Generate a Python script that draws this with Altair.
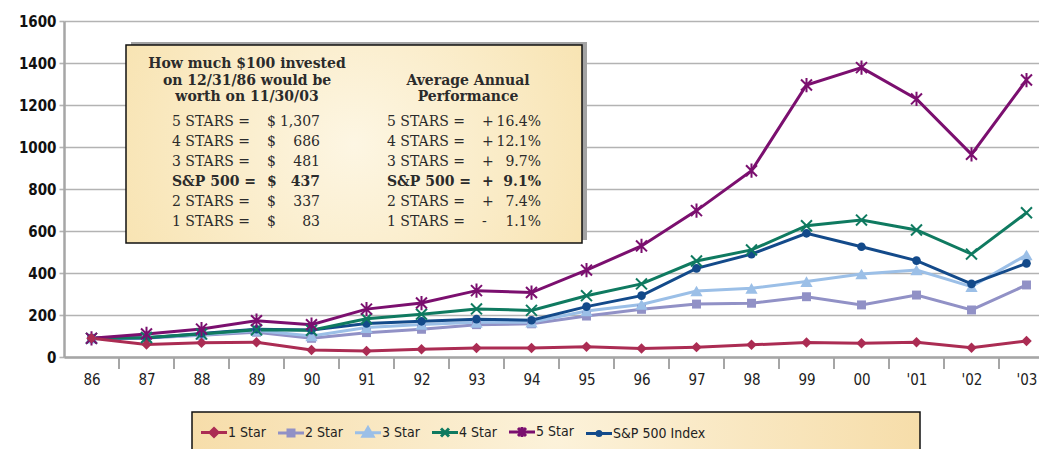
import json
import altair as alt
import pandas as pd

# ---------------- data ----------------
years = ["86", "87", "88", "89", "90", "91", "92", "93", "94", "95", "96",
         "97", "98", "99", "00", "'01", "'02", "'03"]
series_names = ["1 Star", "2 Star", "3 Star", "4 Star", "5 Star", "S&P 500 Index"]

one_star = [89, 60, 68, 70, 33, 29, 37, 43, 43, 49, 41, 47, 58, 69, 66, 70, 44, 76]
two_star = [89, 90, 103, 118, 89, 116, 132, 154, 158, 195, 227, 252, 256, 287, 248, 295, 224, 343]
three_star = [89, 92, 106, 126, 100, 140, 155, 165, 166, 219, 250, 314, 327, 359, 395, 414, 335, 486]
four_star = [89, 93, 110, 130, 127, 182, 204, 229, 222, 292, 348, 457, 510, 625, 652, 605, 490, 687]
five_star = [89, 110, 133, 173, 154, 228, 257, 316, 307, 414, 529, 697, 887, 1295, 1378, 1229, 965, 1319]
sp500 = [89, 90, 112, 132, 128, 160, 170, 180, 175, 240, 292, 422, 490, 589, 525, 459, 348, 446]

colors = ["#ab2c53", "#9191c6", "#9bbfe7", "#0f7a60", "#7b0f6f", "#134a8a"]

y_ticks = [0, 200, 400, 600, 800, 1000, 1200, 1400, 1600]

box_left_head = ["How much $100 invested", "on 12/31/86 would be", "worth on 11/30/03"]
box_right_head = ["Average Annual", "Performance"]
row_labels = ["5 STARS =", "4 STARS =", "3 STARS =", "S&P 500 =", "2 STARS =", "1 STARS ="]
worth = ["1,307", "686", "481", "437", "337", "83"]
perf_sign = ["+", "+", "+", "+", "+", "-"]
perf_val = ["16.4%", "12.1%", "9.7%", "9.1%", "7.4%", "1.1%"]
bold_row = 3

# ---------------- tables ----------------
all_vals = [one_star, two_star, three_star, four_star, five_star, sp500]
rows = []
for name, vals in zip(series_names, all_vals):
    for i, v in enumerate(vals):
        rows.append({"idx": i, "year": years[i], "series": name, "value": v})
df = pd.DataFrame(rows)

tick_df = pd.DataFrame({"b": [i + 0.5 for i in range(len(years) - 1)]})

# ---------------- layout ----------------
W, H = 975, 336
STEP = 55
PAD = {"left": 64, "top": 21, "right": 0, "bottom": 92}
GRID = "#b3b3b3"
SANS = "'Liberation Sans Narrow', 'DejaVu Sans Condensed', 'Roboto', sans-serif"
SERIF = "'DejaVu Serif', 'Liberation Serif', serif"
TXT = "#2b2b2b"

x_scale = alt.Scale(domain=[-0.5, -0.5 + W / STEP], nice=False, zero=False)
y_scale = alt.Scale(domain=[0, 1600], nice=False, zero=True)
color_scale = alt.Scale(domain=series_names, range=colors)

label_expr = json.dumps(years) + "[datum.value]"

x_axis = alt.Axis(values=list(range(len(years))), labelExpr=label_expr, ticks=False,
                  grid=False, domainColor="#a6a6a6", domainWidth=2.5, labelPadding=15,
                  labelFont=SANS, labelFontSize=15, labelColor="#222222", title=None)
y_axis = alt.Axis(values=y_ticks, format="d", grid=True, gridColor=GRID, gridWidth=1.6,
                  domainColor="#a6a6a6", domainWidth=2.5, tickColor=GRID, tickWidth=1.6,
                  tickSize=5, labelPadding=3, labelFont=SANS, labelFontSize=15,
                  labelFontWeight="bold", labelColor="#111111", title=None)

base = alt.Chart(df)

# legend layer first (draws nothing; provides the legend)
L = "M-13,0H13"
legend_paths = [
    L + "M0,-4L4,0L0,4L-4,0ZM0,-1.5L1.5,0L0,1.5L-1.5,0Z",
    L + "M-3,-3H3V3H-3ZM-0.8,-0.8H0.8V0.8H-0.8Z",
    L + "M0,-5L5,3.5L-5,3.5ZM0,-1.5L1.5,1L-1.5,1Z",
    L + "M-4,-4L4,4M-4,4L4,-4",
    L + "M-4,-4L4,4M-4,4L4,-4M0,-5V5",
    L + "M-2,0A2,2,0,1,1,2,0A2,2,0,1,1,-2,0Z",
]
leg = alt.Legend(
    orient="none", legendX=122, legendY=391, direction="horizontal", columns=6,
    title=None, symbolSize=4, symbolStrokeWidth=3, symbolOffset=8,
    labelOffset=7, labelFont=SANS, labelFontSize=14, labelColor="#222222",
    columnPadding=6, padding=13,
)
legend_layer = base.transform_filter("datum.value < 0").mark_point(
    filled=False, opacity=1, strokeWidth=3
).encode(
    x=alt.X("idx:Q", scale=x_scale, axis=x_axis, title=None),
    y=alt.Y("value:Q", scale=y_scale, axis=y_axis, title=None),
    color=alt.Color("series:N", scale=color_scale, legend=leg),
    shape=alt.Shape("series:N", scale=alt.Scale(domain=series_names, range=legend_paths), legend=leg),
)

draw_order = [1, 2, 5, 3, 4, 0]
line_layers = []
for k in draw_order:
    line_layers.append(
        base.transform_filter(alt.datum.series == series_names[k])
        .mark_line(color=colors[k], strokeWidth=3)
        .encode(x=alt.X("idx:Q", title=None), y=alt.Y("value:Q", title=None))
    )

x_path = "M-1,-1L1,1M-1,1L1,-1"
ast_path = "M-1,-1L1,1M-1,1L1,-1M0,-1.3L0,1.3"
point_styles = [
    dict(shape="diamond", filled=True, size=110),
    dict(shape="square", filled=True, size=80),
    dict(shape="triangle-up", filled=True, size=150),
    dict(shape=x_path, filled=False, size=120, strokeWidth=2),
    dict(shape=ast_path, filled=False, size=120, strokeWidth=2),
    dict(shape="circle", filled=True, size=75),
]
point_layers = []
for k in draw_order:
    point_layers.append(
        base.transform_filter(alt.datum.series == series_names[k])
        .mark_point(color=colors[k], opacity=1, **point_styles[k])
        .encode(x=alt.X("idx:Q", title=None), y=alt.Y("value:Q", title=None))
    )

ticks = alt.Chart(tick_df).mark_rule(color="#a6a6a6", strokeWidth=2).encode(
    x=alt.X("b:Q", title=None), y=alt.value(H + 1), y2=alt.value(H + 12)
)

# ---------------- annotation box ----------------
one = pd.DataFrame({"a": [0]})
box_grad = alt.Gradient(
    gradient="radial",
    stops=[alt.GradientStop(color="#fdf6e3", offset=0),
           alt.GradientStop(color="#f6dda1", offset=1)],
    x1=0.5, y1=0.5, r1=0, x2=0.5, y2=0.5, r2=0.75,
)
shadow = alt.Chart(one).mark_rect(color="#a3a3a3").encode(
    x=alt.value(67), x2=alt.value(523), y=alt.value(21), y2=alt.value(219))
box = alt.Chart(one).mark_rect(fill=box_grad, stroke="#111111", strokeWidth=1.5).encode(
    x=alt.value(62), x2=alt.value(518), y=alt.value(24), y2=alt.value(222))


def txt(t, x, y, align="left", bold=False, size=14):
    return alt.Chart(pd.DataFrame({"t": [t]})).mark_text(
        align=align, baseline="middle", font=SERIF, fontSize=size,
        fontWeight="bold" if bold else "normal", color=TXT,
    ).encode(x=alt.value(x), y=alt.value(y), text="t:N")


texts = []
for i, t in enumerate(box_left_head):
    texts.append(txt(t, 183, 43 + i * 16.7, align="center", bold=True))
for i, t in enumerate(box_right_head):
    texts.append(txt(t, 404, 59.7 + i * 16.7, align="center", bold=True))
for i in range(len(row_labels)):
    yy = 101.3 + i * 19.9
    b = i == bold_row
    texts.append(txt(row_labels[i], 108, yy, bold=b))
    texts.append(txt("$", 203, yy, bold=b))
    texts.append(txt(worth[i], 256, yy, align="right", bold=b))
    texts.append(txt(row_labels[i], 323, yy, bold=b))
    texts.append(txt(perf_sign[i], 418, yy, bold=b))
    texts.append(txt(perf_val[i], 477, yy, align="right", bold=b))

# ---------------- legend background ----------------
leg_grad = alt.Gradient(
    gradient="radial",
    stops=[alt.GradientStop(color="#fcf2da", offset=0),
           alt.GradientStop(color="#f5d9a0", offset=1)],
    x1=0.5, y1=0.5, r1=0, x2=0.5, y2=0.5, r2=0.6,
)
leg_bg = alt.Chart(one).mark_rect(fill=leg_grad, stroke="#111111", strokeWidth=1.5).encode(
    x=alt.value(128), x2=alt.value(856), y=alt.value(391), y2=alt.value(445))

chart = alt.layer(
    legend_layer, ticks, *line_layers, *point_layers, shadow, box, *texts, leg_bg
).properties(
    width=W, height=H, padding=PAD,
    autosize=alt.AutoSizeParams(type="none"),
).configure_view(stroke=None)

chart.save("out.html", embed_options={"renderer": "svg", "actions": False})
